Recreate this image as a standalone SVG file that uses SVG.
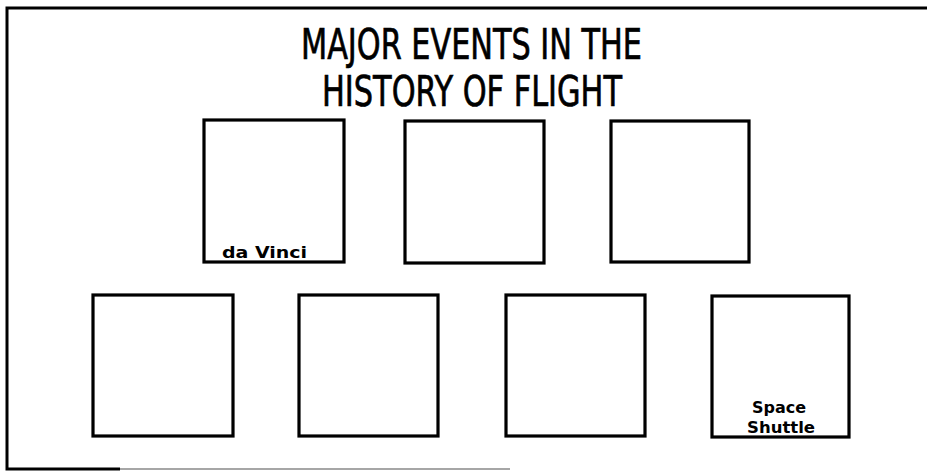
<svg xmlns="http://www.w3.org/2000/svg" width="927" height="472" viewBox="0 0 927 472">
<style>
  .frame { fill: none; stroke: #000; stroke-width: 3; }
  .box { fill: #fff; stroke: #000; stroke-width: 3.2; }
  .title { font-family: "DejaVu Sans Condensed", "DejaVu Sans", sans-serif; font-stretch: condensed; font-size: 43px; fill: #000; stroke: #000; stroke-width: 0.7; }
  .lbl { font-family: "DejaVu Sans Condensed", "DejaVu Sans", sans-serif; font-stretch: condensed; font-size: 16px; font-weight: bold; fill: #000; }
</style>
<rect width="927" height="472" fill="#fff"/>
<g id="frame">
  <path class="frame" d="M927 8 H7 V469 H120"/>
  <path d="M120 469 H510" stroke="#888" stroke-width="1.5" fill="none"/>
</g>
<g id="title">
  <text class="title" x="301" y="59" textLength="341" lengthAdjust="spacingAndGlyphs">MAJOR EVENTS IN THE</text>
  <text class="title" x="322" y="106" textLength="300" lengthAdjust="spacingAndGlyphs">HISTORY OF FLIGHT</text>
</g>
<g id="box-davinci">
  <rect class="box" x="204" y="120" width="140" height="142"/>
  <text class="lbl" x="222" y="258" textLength="85" lengthAdjust="spacingAndGlyphs">da Vinci</text>
</g>
<g id="box-2">
  <rect class="box" x="405" y="121" width="139" height="142"/>
</g>
<g id="box-3">
  <rect class="box" x="611" y="121" width="138" height="141"/>
</g>
<g id="box-4">
  <rect class="box" x="93" y="295" width="140" height="141"/>
</g>
<g id="box-5">
  <rect class="box" x="299" y="295" width="139" height="141"/>
</g>
<g id="box-6">
  <rect class="box" x="506" y="295" width="139" height="141"/>
</g>
<g id="box-shuttle">
  <rect class="box" x="712" y="296" width="137" height="141"/>
  <text class="lbl" x="779" y="413" text-anchor="middle" textLength="54" lengthAdjust="spacingAndGlyphs">Space</text>
  <text class="lbl" x="781" y="433" text-anchor="middle" textLength="68" lengthAdjust="spacingAndGlyphs">Shuttle</text>
</g>
<g id="connectors"></g>
</svg>
